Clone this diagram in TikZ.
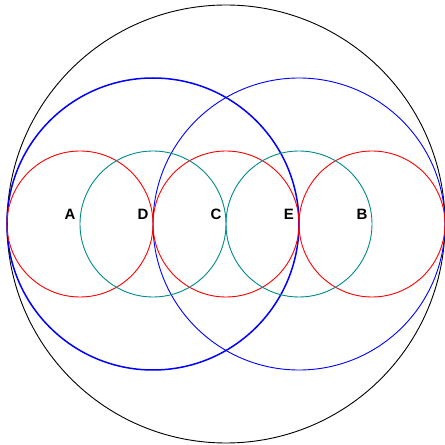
\documentclass[tikz,border=0pt]{standalone}
\usepackage{fontspec}
\setsansfont{Liberation Sans}
\usepackage{xcolor}
\definecolor{circred}{HTML}{FF0000}
\definecolor{circteal}{HTML}{008B8B}
\definecolor{circblue}{HTML}{0000FF}
\tikzset{
  ptlabel/.style={font=\sffamily\bfseries\fontsize{15}{15}\selectfont,anchor=center},
}
\begin{document}
\begin{tikzpicture}[x=1pt,y=1pt]
  \useasboundingbox (0,0) rectangle (445,445);
  % Points on the line
  \coordinate (A) at (80,221);
  \coordinate (D) at (153,221);
  \coordinate (C) at (226,221);
  \coordinate (E) at (299,221);
  \coordinate (B) at (372,221);
  % Outer circle
  \draw[black,line width=0.9pt] (C) circle (219);
  % Large circles
  \draw[circblue,line width=1.5pt] (D) circle (146);
  \draw[circblue,line width=0.9pt] (E) circle (146);
  % Small circles
  \draw[circred,line width=0.9pt] (A) circle (73);
  \draw[circred,line width=0.9pt] (C) circle (73);
  \draw[circred,line width=0.9pt] (B) circle (73);
  \draw[circteal,line width=0.9pt] (D) circle (73);
  \draw[circteal,line width=0.9pt] (E) circle (73);
  % Labels
  \node[ptlabel] (labA) at (70,231) {A};
  \node[ptlabel] (labD) at (143,231) {D};
  \node[ptlabel] (labC) at (216,231) {C};
  \node[ptlabel] (labE) at (289,231) {E};
  \node[ptlabel] (labB) at (362,231) {B};
\end{tikzpicture}
\end{document}
